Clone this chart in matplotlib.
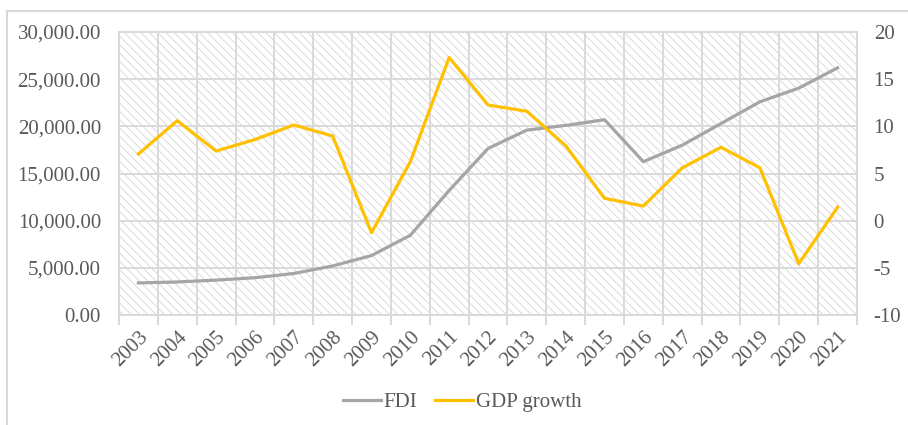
import matplotlib.pyplot as plt
import numpy as np
from matplotlib.patches import Rectangle

plt.rcParams['font.family'] = ['Liberation Serif', 'DejaVu Serif']
plt.rcParams['axes.unicode_minus'] = False
plt.rcParams['hatch.color'] = '#dadada'
plt.rcParams['hatch.linewidth'] = 0.7

years = [str(y) for y in range(2003, 2022)]
fdi = [3400, 3500, 3700, 3950, 4400, 5200, 6300, 8450, 13200, 17650, 19600,
       20100, 20700, 16250, 18000, 20300, 22600, 24050, 26200]
gdp = [7.07, 10.6, 7.38, 8.6, 10.14, 8.98, -1.28, 6.25, 17.3, 12.26, 11.6,
       7.95, 2.37, 1.55, 5.6, 7.78, 5.6, -4.56, 1.42]

grid_col = '#d9d9d9'
text_col = '#595959'

fig = plt.figure(figsize=(9.08, 4.25), dpi=100)
fig.patches.append(Rectangle((7/908, -0.1), 1.2, 1 - 11/425 + 0.1,
                             transform=fig.transFigure, fill=False,
                             edgecolor=grid_col, linewidth=1.5))

ax = fig.add_axes([119/908, 1 - 315/425, (857 - 119)/908, (315 - 32)/425])
ax2 = ax.twinx()

x = np.arange(len(years))
ax.set_xlim(-0.5, len(years) - 0.5)
ax.set_ylim(0, 30000)
ax2.set_ylim(-10, 20)

ax.patch.set_hatch('\\\\\\\\')
ax.patch.set_edgecolor('#dadada')
ax.patch.set_facecolor('white')

ax.set_xticks(np.arange(-0.5, len(years)))
ax.set_xticklabels([])
ax.set_xticks(x, minor=True)
ax.set_xticklabels(years, minor=True, rotation=45, ha='right', rotation_mode='anchor')
ax.tick_params(axis='x', which='major', length=7, color=grid_col, width=1.4)
ax.tick_params(axis='x', which='minor', length=0, pad=9, labelsize=15, labelcolor=text_col)
ax.set_yticks(np.arange(0, 30001, 5000))
ax.set_yticklabels(['{:,.2f}'.format(v) for v in np.arange(0, 30001, 5000)])
ax.tick_params(axis='y', length=0, pad=13, labelsize=15, labelcolor=text_col)
ax2.set_yticks(np.arange(-10, 21, 5))
ax2.tick_params(axis='y', length=0, pad=12, labelsize=15, labelcolor=text_col)

ax.grid(True, which='major', color=grid_col, linewidth=1.4)
for a in (ax, ax2):
    for s in a.spines.values():
        s.set_color(grid_col)
        s.set_linewidth(1.4)

l1, = ax.plot(x, fdi, color='#a5a5a5', linewidth=2.3, label='FDI')
l2, = ax2.plot(x, gdp, color='#ffc000', linewidth=2.3, label='GDP growth')

leg = fig.legend(handles=[l1, l2], loc='center', bbox_to_anchor=(0.509, 1 - 402/425),
                 ncol=2, frameon=False, fontsize=15, handlelength=1.8,
                 handletextpad=0.15, columnspacing=0.85)
for t in leg.get_texts():
    t.set_color(text_col)

fig.savefig('out.png', dpi=100)
